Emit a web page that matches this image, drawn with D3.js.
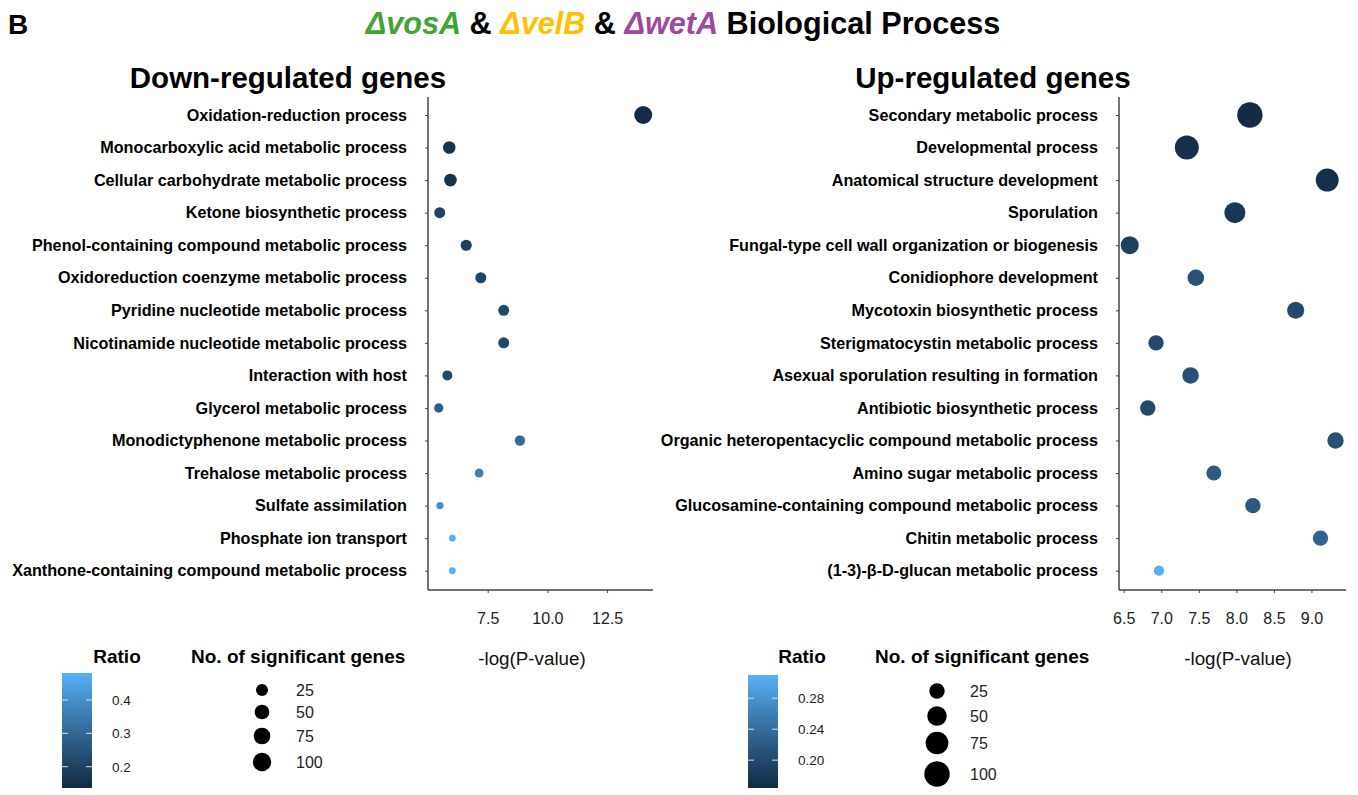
<!DOCTYPE html>
<html>
<head>
<meta charset="utf-8">
<script src="https://cdn.jsdelivr.net/npm/d3@7"></script>
<style>
  body { margin: 0; background: #fff; }
  svg { font-family: "Liberation Sans", Arial, sans-serif; }
</style>
</head>
<body>
<svg id="chart" width="1358" height="795"></svg>
<script>
// Down-regulated genes
var downTerms = ["Oxidation-reduction process", "Monocarboxylic acid metabolic process",
  "Cellular carbohydrate metabolic process", "Ketone biosynthetic process",
  "Phenol-containing compound metabolic process", "Oxidoreduction coenzyme metabolic process",
  "Pyridine nucleotide metabolic process", "Nicotinamide nucleotide metabolic process",
  "Interaction with host", "Glycerol metabolic process", "Monodictyphenone metabolic process",
  "Trehalose metabolic process", "Sulfate assimilation", "Phosphate ion transport",
  "Xanthone-containing compound metabolic process"];
var downLogP  = [14.01, 5.89, 5.94, 5.49, 6.60, 7.21, 8.17, 8.17, 5.81, 5.45, 8.85, 7.14, 5.50, 6.02, 6.02];
var downCount = [94, 30, 31, 18, 19, 18, 18, 18, 12, 9, 14, 7, 2, 1, 1];
var downRatio = [0.14, 0.16, 0.16, 0.20, 0.20, 0.21, 0.22, 0.22, 0.22, 0.28, 0.31, 0.36, 0.41, 0.48, 0.48];

// Up-regulated genes
var upTerms = ["Secondary metabolic process", "Developmental process", "Anatomical structure development",
  "Sporulation", "Fungal-type cell wall organization or biogenesis", "Conidiophore development",
  "Mycotoxin biosynthetic process", "Sterigmatocystin metabolic process",
  "Asexual sporulation resulting in formation", "Antibiotic biosynthetic process",
  "Organic heteropentacyclic compound metabolic process", "Amino sugar metabolic process",
  "Glucosamine-containing compound metabolic process", "Chitin metabolic process",
  "(1-3)-\u03b2-D-glucan metabolic process"];
var upLogP  = [8.18, 7.34, 9.21, 7.98, 6.58, 7.46, 8.79, 6.93, 7.39, 6.82, 9.32, 7.70, 8.22, 9.12, 6.97];
var upCount = [100, 86, 77, 61, 40, 31, 34, 25, 31, 25, 30, 23, 25, 25, 6];
var upRatio = [0.165, 0.17, 0.17, 0.18, 0.19, 0.21, 0.20, 0.20, 0.21, 0.20, 0.21, 0.22, 0.22, 0.23, 0.31];

var downXTicks = [7.5, 10.0, 12.5];
var upXTicks = [6.5, 7.0, 7.5, 8.0, 8.5, 9.0];
var downRatioTicks = [0.2, 0.3, 0.4];
var upRatioTicks = [0.20, 0.24, 0.28];
var sizeLegend = [25, 50, 75, 100];

var svg = d3.select("#chart");
var lowCol = "#132B43", highCol = "#56B1F7";

// title
svg.append("text").attr("x", 8).attr("y", 34)
  .attr("font-size", 28).attr("font-weight", "bold").text("B");

var title = svg.append("text").attr("x", 683).attr("y", 34)
  .attr("text-anchor", "middle").attr("font-size", 30.6).attr("font-weight", "bold");
title.append("tspan").attr("fill", "#3FA535").attr("font-style", "italic").text("\u0394vosA");
title.append("tspan").attr("fill", "#000").text(" & ");
title.append("tspan").attr("fill", "#FFC000").attr("font-style", "italic").text("\u0394velB");
title.append("tspan").attr("fill", "#000").text(" & ");
title.append("tspan").attr("fill", "#9B4A9E").attr("font-style", "italic").text("\u0394wetA");
title.append("tspan").attr("fill", "#000").text(" Biological Process");

function panel(opt) {
  var x = d3.scaleLinear().domain(opt.xDomain).range([opt.left, opt.right]);
  var y = d3.scalePoint().domain(opt.terms).range([115, 570.7]);
  var color = d3.scaleLinear().domain(opt.ratioDomain).range([lowCol, highCol])
    .interpolate(d3.interpolateLab);
  var size = d3.scaleSqrt().domain(opt.sizeDomain).range(opt.sizeRange);

  svg.append("text").attr("x", opt.titleX).attr("y", 88)
    .attr("text-anchor", "middle").attr("font-size", 29.5).attr("font-weight", "bold")
    .text(opt.title);

  var yAxis = svg.append("g").attr("transform", "translate(" + opt.left + ",0)")
    .call(d3.axisLeft(y).tickSize(3).tickPadding(18));
  yAxis.select(".domain").attr("d", "M0,97V590").attr("stroke", "#444").attr("stroke-width", 1.5);
  yAxis.selectAll(".tick line").attr("stroke", "#444");
  yAxis.selectAll(".tick text").attr("font-size", 16.2).attr("font-weight", "bold")
    .attr("fill", "#000").attr("font-family", "Liberation Sans, Arial, sans-serif");

  var xAxis = svg.append("g").attr("transform", "translate(0,590)")
    .call(d3.axisBottom(x).tickValues(opt.xTicks).tickFormat(d3.format(".1f")).tickSize(3).tickPadding(20));
  xAxis.select(".domain").attr("d", "M" + opt.left + ",0H" + opt.right).attr("stroke", "#444").attr("stroke-width", 1.5);
  xAxis.selectAll(".tick line").attr("stroke", "#444");
  xAxis.selectAll(".tick text").attr("font-size", 16).attr("fill", "#222")
    .attr("font-family", "Liberation Sans, Arial, sans-serif");

  svg.append("text").attr("x", opt.xTitleX).attr("y", 665)
    .attr("text-anchor", "middle").attr("font-size", 18.8).attr("fill", "#111")
    .text("-log(P-value)");

  var pts = opt.terms.map(function(t, i) {
    return {term: t, p: opt.logP[i], n: opt.count[i], r: opt.ratio[i]};
  });
  svg.append("g").selectAll("circle").data(pts).enter().append("circle")
    .attr("cx", function(d) { return x(d.p); })
    .attr("cy", function(d) { return y(d.term); })
    .attr("r", function(d) { return size(d.n); })
    .attr("fill", function(d) { return color(d.r); });

  // colour legend
  var lg = opt.legend;
  svg.append("text").attr("x", lg.ratioTitleX).attr("y", 663)
    .attr("text-anchor", "middle").attr("font-size", 19).attr("font-weight", "bold").text("Ratio");
  var gid = "grad" + opt.id;
  var grad = svg.append("defs").append("linearGradient").attr("id", gid)
    .attr("x1", 0).attr("y1", 1).attr("x2", 0).attr("y2", 0);
  d3.range(0, 1.0001, 0.1).forEach(function(t) {
    var v = opt.ratioDomain[0] + t * (opt.ratioDomain[1] - opt.ratioDomain[0]);
    grad.append("stop").attr("offset", t).attr("stop-color", color(v));
  });
  var barY = d3.scaleLinear().domain(opt.ratioDomain).range([788, lg.barTop]);
  svg.append("rect").attr("x", lg.barX).attr("y", lg.barTop)
    .attr("width", 30).attr("height", 788 - lg.barTop).attr("fill", "url(#" + gid + ")");
  var tk = svg.append("g").selectAll("g").data(opt.ratioTicks).enter().append("g");
  tk.append("line").attr("x1", lg.barX).attr("x2", lg.barX + 6)
    .attr("y1", function(d) { return barY(d); }).attr("y2", function(d) { return barY(d); })
    .attr("stroke", "#ddd").attr("stroke-width", 1);
  tk.append("line").attr("x1", lg.barX + 24).attr("x2", lg.barX + 30)
    .attr("y1", function(d) { return barY(d); }).attr("y2", function(d) { return barY(d); })
    .attr("stroke", "#ddd").attr("stroke-width", 1);
  tk.append("text").attr("x", lg.barX + 50).attr("y", function(d) { return barY(d) + 5; })
    .attr("font-size", 13.5).attr("fill", "#222").text(opt.ratioFormat);

  // size legend
  svg.append("text").attr("x", lg.sizeTitleX).attr("y", 663)
    .attr("font-size", 19).attr("font-weight", "bold").text("No. of significant genes");
  var sg = svg.append("g").selectAll("g").data(sizeLegend).enter().append("g");
  sg.append("circle").attr("cx", lg.circleX)
    .attr("cy", function(d, i) { return lg.rowY[i]; })
    .attr("r", function(d) { return size(d); }).attr("fill", "#000");
  sg.append("text").attr("x", lg.labelX)
    .attr("y", function(d, i) { return lg.rowY[i] + 6; })
    .attr("font-size", 16).attr("fill", "#222").text(function(d) { return d; });
}

panel({
  id: "down", title: "Down-regulated genes", titleX: 288,
  terms: downTerms, logP: downLogP, count: downCount, ratio: downRatio,
  left: 428, right: 653, xDomain: [5.0, 14.42], xTicks: downXTicks, xTitleX: 532,
  ratioDomain: [0.136, 0.481], ratioTicks: downRatioTicks, ratioFormat: d3.format(".1f"),
  sizeDomain: [1, 100], sizeRange: [3.4, 9.2],
  legend: {ratioTitleX: 117, barX: 62, barTop: 673, sizeTitleX: 191,
    circleX: 262, rowY: [690, 712, 736, 762], labelX: 296}
});

panel({
  id: "up", title: "Up-regulated genes", titleX: 993,
  terms: upTerms, logP: upLogP, count: upCount, ratio: upRatio,
  left: 1119, right: 1346, xDomain: [6.437, 9.46], xTicks: upXTicks, xTitleX: 1238,
  ratioDomain: [0.164, 0.310], ratioTicks: upRatioTicks, ratioFormat: d3.format(".2f"),
  sizeDomain: [6, 100], sizeRange: [5.15, 12.7],
  legend: {ratioTitleX: 802, barX: 748, barTop: 675, sizeTitleX: 875,
    circleX: 937, rowY: [691, 716, 743, 774], labelX: 970}
});
</script>
</body>
</html>
